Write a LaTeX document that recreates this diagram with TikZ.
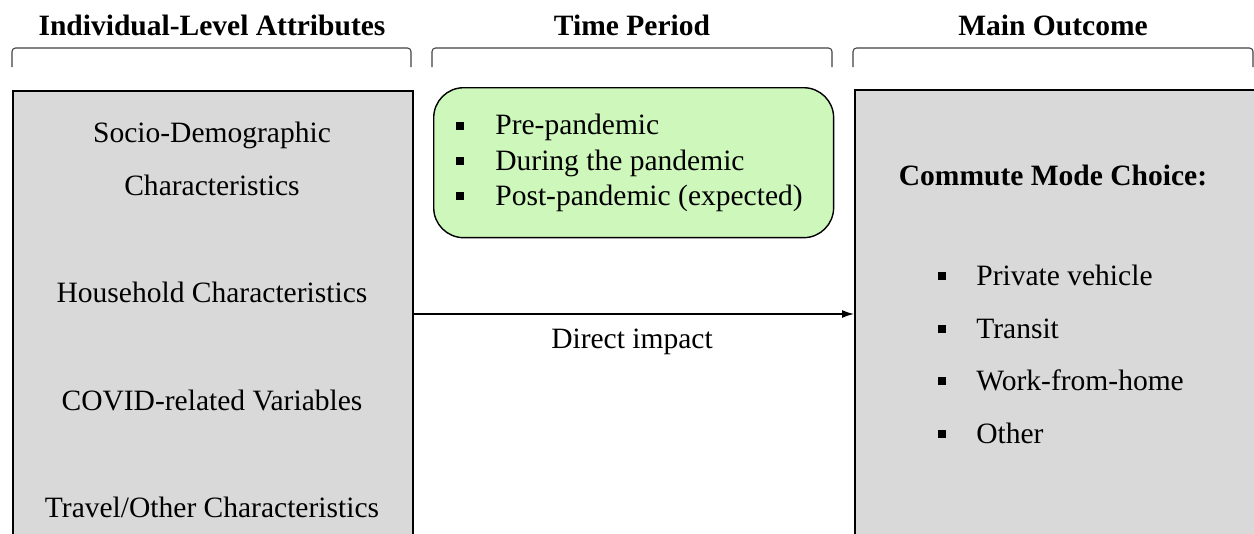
\documentclass[tikz,border=0pt]{standalone}
\usepackage{fontspec}
\setmainfont{Liberation Serif}
\usepackage{tikz}
\usetikzlibrary{calc,arrows.meta}

\definecolor{boxgray}{HTML}{D9D9D9}
\definecolor{periodgreen}{HTML}{CDF7BB}
\definecolor{bracketgray}{HTML}{404040}

\begin{document}
\begin{tikzpicture}[x=0.02cm, y=-0.02cm,
    txt/.style = {font=\fontsize{16.8}{20}\selectfont, inner sep=0pt},
    title/.style = {txt, font=\fontsize{16.8}{20}\selectfont\bfseries},
    bracket/.style = {bracketgray, line width=0.6pt, rounded corners=2pt},
    panel/.style = {draw=black, line width=1.1pt, fill=boxgray, anchor=north west, inner sep=0pt},
    sq/.style = {fill=black, inner sep=0pt, minimum size=0.15cm}]

    % page frame
    \useasboundingbox (0,0) rectangle (1254,534);
    \clip (0,0) rectangle (1254,534);

    % 1. column titles and brackets
    \node[title, anchor=base] (ttlattr) at (212,35) {Individual-Level Attributes};
    \node[title, anchor=base] (ttltime) at (632,35) {Time Period};
    \node[title, anchor=base] (ttlout) at (1053,35) {Main Outcome};

    \draw[bracket] (12,67) -- (12,48) -- (411,48) -- (411,67);
    \draw[bracket] (432,67) -- (432,48) -- (832,48) -- (832,67);
    \draw[bracket] (853,67) -- (853,48) -- (1253,48) -- (1253,67);

    % 2. attribute panel (left)
    \node[panel, minimum width=8cm, minimum height=9.4cm] (attr) at (12,90) {};
    \node[txt, anchor=base] (socio) at (212,142) {Socio-Demographic};
    \node[txt, anchor=base] (sociob) at (212,195) {Characteristics};
    \node[txt, anchor=base] (house) at (212,302) {Household Characteristics};
    \node[txt, anchor=base] (covid) at (212,410) {COVID-related Variables};
    \node[txt, anchor=base] (travel) at (212,517) {Travel/Other Characteristics};

    % 3. time period box (green)
    \node[draw=black, line width=0.8pt, fill=periodgreen, rounded corners=0.6cm,
          minimum width=8cm, minimum height=3cm, anchor=north west] (period) at (433,87) {};
    \node[sq] (sqpre) at (460,126) {};
    \node[txt, anchor=base west] (pre) at (495,134) {Pre-pandemic};
    \node[sq] (sqdur) at (460,161) {};
    \node[txt, anchor=base west] (during) at (495,170) {During the pandemic};
    \node[sq] (sqpost) at (460,196) {};
    \node[txt, anchor=base west] (post) at (495,205) {Post-pandemic (expected)};

    % 4. outcome panel (right)
    \node[panel, minimum width=8.3cm, minimum height=9.4cm] (outcome) at (854,89) {};
    \node[title, anchor=base] (choice) at (1053,185) {Commute Mode Choice:};
    \node[sq] (sqpriv) at (942,276) {};
    \node[txt, anchor=base west] (priv) at (976,285) {Private vehicle};
    \node[sq] (sqtran) at (942,329) {};
    \node[txt, anchor=base west] (tran) at (976,338) {Transit};
    \node[sq] (sqwfh) at (942,381) {};
    \node[txt, anchor=base west] (wfh) at (976,390) {Work-from-home};
    \node[sq] (sqoth) at (942,434) {};
    \node[txt, anchor=base west] (oth) at (976,443) {Other};

    % 5. direct impact arrow
    \coordinate (impact) at (632,314);
    \draw[-{Latex[length=0.24cm, width=0.16cm]}, line width=0.85pt]
      (attr.east |- impact) -- (outcome.west |- impact);
    \node[txt, anchor=base] (impactlbl) at (632,348) {Direct impact};
\end{tikzpicture}
\end{document}
